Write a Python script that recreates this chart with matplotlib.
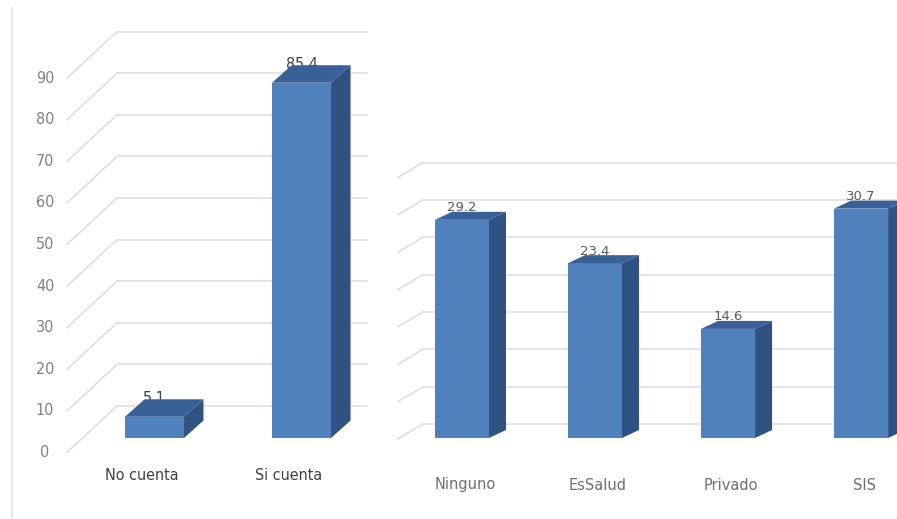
import matplotlib
matplotlib.use("Agg")
import matplotlib.pyplot as plt
from matplotlib.patches import Polygon, Rectangle
from matplotlib.lines import Line2D
from matplotlib import font_manager as fm

W, H, DPI = 897, 519, 100

# ---- data ----
left_categories = ["No cuenta", "Si cuenta"]
left_values = [5.1, 85.4]
left_ticks = [0, 10, 20, 30, 40, 50, 60, 70, 80, 90]

right_categories = ["Ninguno", "EsSalud", "Privado", "SIS"]
right_values = [29.2, 23.4, 14.6, 30.7]
right_grid = [0, 5, 10, 15, 20, 25, 30, 35]

FRONT = "#4F81BD"
SIDE = "#2F5282"
TOP = "#3A6098"
GRID = "#DCDCDC"


def is_regular(f):
    w = f.weight
    return (w in (400, "normal", "regular", "book") ) and f.style == "normal"


cands = [f for f in fm.fontManager.ttflist
         if ("Condensed" in f.fname or "Narrow" in f.fname) and is_regular(f)
         and "Bold" not in f.fname and "Oblique" not in f.fname and "Italic" not in f.fname]
pref = ["LiberationSansNarrow", "DejaVuSansCondensed", "RobotoCondensed", "OpenSans"]
cands.sort(key=lambda f: next((k for k, p in enumerate(pref) if p in f.fname.replace("-", "").replace("_", "")), 99))
if cands:
    NARROW_FILE = cands[0].fname
    NARROW_SIZE = 11.5
else:
    NARROW_FILE = None
    NARROW_SIZE = 9.5


def narrow_font():
    if NARROW_FILE:
        return fm.FontProperties(fname=NARROW_FILE, size=NARROW_SIZE)
    return fm.FontProperties(family="DejaVu Sans", size=NARROW_SIZE)


def wide_font(size):
    return fm.FontProperties(family="DejaVu Sans", size=size)


fig = plt.figure(figsize=(W / DPI, H / DPI), dpi=DPI)


def make_axes(px_left, px_right, px_top, px_bottom, xlim, ylim):
    ax = fig.add_axes([px_left / W, 1 - px_bottom / H,
                       (px_right - px_left) / W, (px_bottom - px_top) / H])
    ax.set_xlim(xlim)
    ax.set_ylim(ylim)
    ax.axis("off")
    sx = (px_right - px_left) / (xlim[1] - xlim[0])
    sy = (px_bottom - px_top) / (ylim[1] - ylim[0])
    return ax, sx, sy


def draw_chart(ax, sx, sy, values, grid, width, depth, back, front):
    x0, x1 = ax.get_xlim()
    bdx, bdy = back[0] / sx, back[1] / sy
    fdx, fdy = front[0] / sx, front[1] / sy
    for v in grid:
        ax.add_line(Line2D([x0 + bdx, x1 + bdx], [v + bdy, v + bdy],
                           color=GRID, lw=1.1, zorder=1, clip_on=False))
        ax.add_line(Line2D([x0 + fdx, x0 + bdx], [v + fdy, v + bdy],
                           color=GRID, lw=1.1, zorder=1, clip_on=False))
    ddx, ddy = depth[0] / sx, depth[1] / sy
    for i, v in enumerate(values):
        l, r = i - width / 2, i + width / 2
        ax.add_patch(Rectangle((l, 0), width, v, facecolor=FRONT,
                               edgecolor="none", zorder=3, clip_on=False))
        ax.add_patch(Polygon([(r, 0), (r + ddx, ddy), (r + ddx, v + ddy), (r, v)],
                             closed=True, facecolor=SIDE, edgecolor="none",
                             zorder=3, clip_on=False))
        ax.add_patch(Polygon([(l, v), (r, v), (r + ddx, v + ddy), (l + ddx, v + ddy)],
                             closed=True, facecolor=TOP, edgecolor="none",
                             zorder=3, clip_on=False))


# ---- left chart ----
axL, sxL, syL = make_axes(82, 332, 63.6, 438, (-0.493, 1.207), (0, 90))
draw_chart(axL, sxL, syL, left_values, left_ticks, 0.401,
           depth=(19.5, 17.5), back=(35, 32), front=(-15, -14.5))
x0L = axL.get_xlim()[0]
for v in left_ticks:
    axL.text(x0L - (82 - 45) / sxL, v - 14.5 / syL, str(v), ha="center", va="center",
             fontproperties=narrow_font(), color="#808080", clip_on=False)
for i, (c, v) in enumerate(zip(left_categories, left_values)):
    axL.text(i - 13 / sxL, -37 / syL, c, ha="center", va="center",
             fontproperties=narrow_font(), color="#404040", clip_on=False)
    axL.text(i, v + 18 / syL, f"{v:.1f}", ha="center", va="center",
             fontproperties=narrow_font(), color="#404040", zorder=2, clip_on=False)

# ---- right chart ----
axR, sxR, syR = make_axes(396, 897, 176.5, 438, (-0.496, 3.27), (0, 35))
draw_chart(axR, sxR, syR, right_values, right_grid, 0.406,
           depth=(17, 8), back=(27, 14), front=(2, -1))
for i, (c, v) in enumerate(zip(right_categories, right_values)):
    axR.text(i + 3 / sxR, -47 / syR, c, ha="center", va="center",
             fontproperties=wide_font(10.5), color="#6E6E6E", clip_on=False)
    axR.text(i, v + 12 / syR, f"{v:.1f}", ha="center", va="center",
             fontproperties=wide_font(9.5), color="#595959", zorder=2, clip_on=False)

# chart frame edge on the left
fig.add_artist(Line2D([12 / W, 12 / W], [0, 1 - 8 / H], color="#E3E3E3", lw=1.2,
                      transform=fig.transFigure))

fig.savefig("out.png", dpi=DPI)
